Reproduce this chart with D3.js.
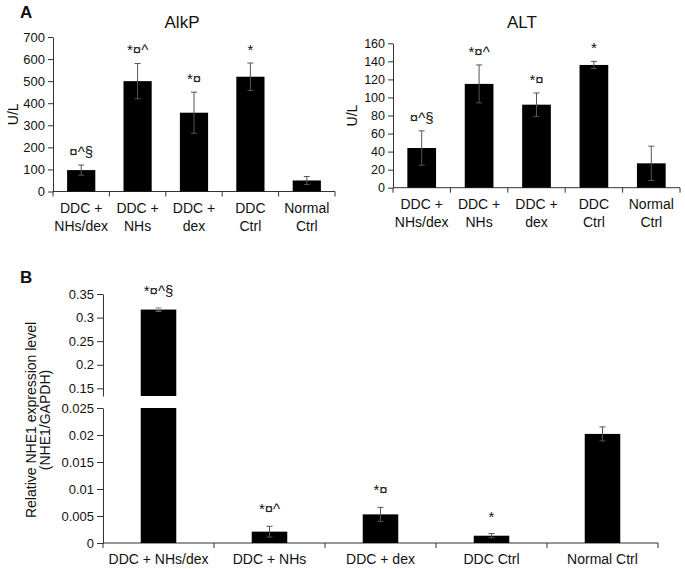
<!DOCTYPE html>
<html><head><meta charset="utf-8">
<script src="https://cdn.jsdelivr.net/npm/d3@7"></script>
<style>body{margin:0;background:#fff}svg{display:block;font-family:"Liberation Sans",Arial,sans-serif}</style>
</head><body><svg id="c" width="685" height="569"></svg>
<script>
// ---- data ----
const groupsA = [["DDC +","NHs/dex"],["DDC +","NHs"],["DDC +","dex"],["DDC","Ctrl"],["Normal","Ctrl"]];
const alkpValues = [97, 500, 357, 520, 50];
const alkpErrors = [23, 80, 93, 62, 18];
const alkpLabels = ["¤^§", "*¤^", "*¤", "*", ""];
const alkpTicks = [0,100,200,300,400,500,600,700];

const altValues = [44, 115, 92, 136, 27];
const altErrors = [19, 21, 13, 4, 19];
const altLabels = ["¤^§", "*¤^", "*¤", "*", ""];
const altTicks = [0,20,40,60,80,100,120,140,160];

const groupsB = ["DDC + NHs/dex","DDC + NHs","DDC + dex","DDC Ctrl","Normal Ctrl"];
const nheValues = [0.317, 0.0021, 0.0053, 0.00135, 0.0202];
const nheErrors = [0.0035, 0.001, 0.0013, 0.0004, 0.0013];
const nheLabels = ["*¤^§", "*¤^", "*¤", "*", ""];
const nheTicksUpper = [0.15,0.2,0.25,0.3,0.35];
const nheTicksLower = [0,0.005,0.01,0.015,0.02,0.025];

const svg = d3.select("#c");
const AX = "#333", ERR = "#555";

function panelA(cfg){
  const g = svg.append("g");
  const x = d3.scaleBand().domain(d3.range(cfg.values.length)).range([cfg.x0, cfg.x1]).paddingInner(0).paddingOuter(0);
  const y = d3.scaleLinear().domain([0, cfg.max]).range([cfg.yb, cfg.yt]);
  const bw = x.bandwidth()*0.5;
  const ya = g.append("g").attr("transform",`translate(${cfg.x0},0)`)
    .call(d3.axisLeft(y).tickValues(cfg.ticks).tickSize(5).tickSizeOuter(0).tickFormat(d3.format("d")));
  ya.select(".domain").attr("stroke",AX);
  ya.selectAll(".tick line").attr("stroke",AX);
  ya.selectAll("text").attr("font-size",cfg.tickFont).attr("fill","#111").attr("font-family","Liberation Sans, Arial");
  g.append("line").attr("x1",cfg.x0).attr("x2",cfg.x1).attr("y1",y(0)).attr("y2",y(0)).attr("stroke",AX);
  const bounds = d3.range(cfg.values.length+1).map(i=> i<cfg.values.length ? x(i) : x(i-1)+x.bandwidth());
  g.selectAll(".bt").data(bounds).join("line").attr("x1",d=>d).attr("x2",d=>d).attr("y1",y(0)).attr("y2",y(0)+5).attr("stroke",AX);
  g.selectAll(".bar").data(cfg.values).join("rect")
    .attr("x",(d,i)=>x(i)+x.bandwidth()/2-bw/2).attr("width",bw)
    .attr("y",d=>y(d)).attr("height",d=>y(0)-y(d)).attr("fill","#000");
  cfg.values.forEach((v,i)=>{
    const cx = x(i)+x.bandwidth()/2, e = cfg.errors[i];
    const t = y(v+e), b = y(v-e);
    g.append("line").attr("x1",cx).attr("x2",cx).attr("y1",t).attr("y2",b).attr("stroke",ERR);
    [t,b].forEach(yy=>g.append("line").attr("x1",cx-3).attr("x2",cx+3).attr("y1",yy).attr("y2",yy).attr("stroke",ERR));
    if(cfg.labels[i]) g.append("text").attr("x",cx).attr("y",t-8).attr("text-anchor","middle").attr("font-size",15).attr("fill","#111").text(cfg.labels[i]);
  });
  groupsA.forEach((lines,i)=>{
    const cx = x(i)+x.bandwidth()/2;
    lines.forEach((s,k)=>g.append("text").attr("x",cx).attr("y",y(0)+21+k*18).attr("text-anchor","middle").attr("font-size",14).attr("fill","#111").text(s));
  });
  g.append("text").attr("x",cfg.tx).attr("y",28).attr("text-anchor","middle").attr("font-size",17).attr("fill","#111").text(cfg.title);
  g.append("text").attr("transform",`translate(${cfg.lx},${(cfg.yt+cfg.yb)/2}) rotate(-90)`).attr("text-anchor","middle").attr("font-size",14).attr("fill","#111").text("U/L");
}

panelA({values:alkpValues, errors:alkpErrors, labels:alkpLabels, ticks:alkpTicks, max:700,
  x0:53, x1:335, yb:191.5, yt:37, title:"AlkP", tx:182, lx:18, tickFont:13});
panelA({values:altValues, errors:altErrors, labels:altLabels, ticks:altTicks, max:160,
  x0:393, x1:680, yb:187.7, yt:43.3, title:"ALT", tx:522, lx:357, tickFont:12.5});

svg.append("text").attr("x",20).attr("y",18).attr("font-size",17).attr("font-weight","bold").attr("fill","#111").text("A");
svg.append("text").attr("x",20).attr("y",283).attr("font-size",17).attr("font-weight","bold").attr("fill","#111").text("B");

// ---- panel B (broken axis) ----
(function(){
  const g = svg.append("g");
  const x0 = 103, x1 = 658;
  const x = d3.scaleBand().domain(d3.range(nheValues.length)).range([x0,x1]);
  const yU = d3.scaleLinear().domain([0.1337, 0.35]).range([396, 294]);
  const yL = d3.scaleLinear().domain([0, 0.025]).range([543, 408]);
  const bw = x.bandwidth()*0.32;
  const style = sel => {
    sel.select(".domain").attr("stroke",AX);
    sel.selectAll(".tick line").attr("stroke",AX);
    sel.selectAll("text").attr("font-size",13).attr("fill","#111").attr("font-family","Liberation Sans, Arial");
  };
  const fmt = d => d===0 ? "0" : String(+d.toFixed(3));
  const au = g.append("g").attr("transform",`translate(${x0},0)`).call(d3.axisLeft(yU).tickValues(nheTicksUpper).tickSize(6).tickSizeOuter(0).tickFormat(fmt));
  style(au);
  const al = g.append("g").attr("transform",`translate(${x0},0)`).call(d3.axisLeft(yL).tickValues(nheTicksLower).tickSize(6).tickSizeOuter(0).tickFormat(fmt));
  style(al);
  g.append("line").attr("x1",x0).attr("x2",x1).attr("y1",yL(0)).attr("y2",yL(0)).attr("stroke",AX);
  const bounds = d3.range(nheValues.length+1).map(i=> i<nheValues.length ? x(i) : x(i-1)+x.bandwidth());
  g.selectAll(".bt").data(bounds).join("line").attr("x1",d=>d).attr("x2",d=>d).attr("y1",yL(0)).attr("y2",yL(0)+5).attr("stroke",AX);
  nheValues.forEach((v,i)=>{
    const cx = x(i)+x.bandwidth()/2, e = nheErrors[i];
    let t, b;
    if(v > 0.025){
      g.append("rect").attr("x",cx-bw/2).attr("width",bw).attr("y",yL(0.025)).attr("height",yL(0)-yL(0.025)).attr("fill","#000");
      g.append("rect").attr("x",cx-bw/2).attr("width",bw).attr("y",yU(v)).attr("height",yU(0.1337)-yU(v)).attr("fill","#000");
      t = yU(v+e); b = yU(v-e);
    } else {
      g.append("rect").attr("x",cx-bw/2).attr("width",bw).attr("y",yL(v)).attr("height",yL(0)-yL(v)).attr("fill","#000");
      t = yL(v+e); b = yL(v-e);
    }
    const ec = v > 0.025 ? "#888" : ERR;
    g.append("line").attr("x1",cx).attr("x2",cx).attr("y1",t).attr("y2",b).attr("stroke",ec);
    [t,b].forEach(yy=>g.append("line").attr("x1",cx-3).attr("x2",cx+3).attr("y1",yy).attr("y2",yy).attr("stroke",ec));
    if(nheLabels[i]) g.append("text").attr("x",cx).attr("y",t-12).attr("text-anchor","middle").attr("font-size",15).attr("fill","#111").text(nheLabels[i]);
    g.append("text").attr("x",cx).attr("y",yL(0)+21).attr("text-anchor","middle").attr("font-size",14).attr("fill","#111").text(groupsB[i]);
  });
  const lt = g.append("text").attr("transform",`translate(36,420) rotate(-90)`).attr("text-anchor","middle").attr("font-size",14).attr("fill","#111");
  lt.append("tspan").attr("x",0).attr("y",0).text("Relative NHE1 expression level");
  lt.append("tspan").attr("x",0).attr("y",14).text("(NHE1/GAPDH)");
})();
</script></body></html>
